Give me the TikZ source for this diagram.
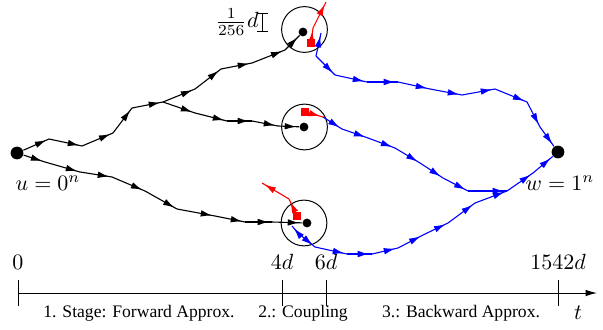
\documentclass[tikz,border=0pt]{standalone}
\usepackage{amsmath,amssymb}
\usepackage{fontspec}
\setmainfont{Liberation Serif}
\usetikzlibrary{arrows.meta,decorations.markings,decorations.pathreplacing}

\tikzset{
  seg/.style={decoration={markings,
      mark=at position -1.3pt with {\arrow{Latex[length=5.2pt,width=3pt]}}},
    postaction={decorate}},
  walk/.style={decoration={show path construction,
      lineto code={\draw[seg,#1] (\tikzinputsegmentfirst) -- (\tikzinputsegmentlast);}},
    decorate},
  bigdot/.style={circle,fill,inner sep=0pt,minimum size=5.8pt},
  smalldot/.style={circle,fill,inner sep=0pt,minimum size=4pt},
  redsq/.style={fill=red,inner sep=0pt,minimum size=3.4pt}
}

\begin{document}
\begin{tikzpicture}[x=0.4544pt,y=-0.4544pt,line width=0.5pt]
\useasboundingbox (0,0) rectangle (603,329);
% start, end and the three balls
\node[bigdot] (U) at (17,153) {};
\node[bigdot] (W) at (558,152) {};
\node at (48,183) {$u=0^n$};
\node at (560,183) {$w=1^n$};
\node[smalldot] (C1) at (303,32) {};
\node[smalldot] (C2) at (304,127) {};
\node[smalldot] (C3) at (307,223) {};
\draw[line width=0.45pt] (304.5,29.5) circle (10.4pt);
\draw[line width=0.45pt] (304.5,127) circle (10.4pt);
\draw[line width=0.45pt] (304,223) circle (10.4pt);
% radius bar
\node (F) at (237,22) {$\frac{1}{256}d$};
\draw[line width=0.45pt,{Bar[width=5pt]}-{Bar[width=5pt]}] (262,13) -- (262,32);

% forward walks
\coordinate (B) at (163,102);
\draw[walk=black] (U) -- (49,139) -- (82,146) -- (113,133) -- (132,108) -- (B);
\draw[walk=black] (B) -- (195,89) -- (221,69) -- (252,63) -- (285,50) -- (C1);
\draw[walk=black] (B) -- (195,113) -- (227,121) -- (252,121) -- (278,126) -- (C2);
\draw[walk=black] (U) -- (45,162) -- (80,172) -- (112,177) -- (145,191) -- (177,209)
  -- (215,216) -- (245,222) -- (272,222) -- (C3);

% coupling
\node[redsq] (R1) at (311,43) {};
\node[redsq] (R2) at (305,112) {};
\node[redsq] (R3) at (297,216) {};
\coordinate (S1) at (316,56);
\coordinate (S2) at (323,117);
\coordinate (S3) at (298,233);
\coordinate (J) at (507,191);
\draw[walk=red] (R1) -- (313,28) -- (326,2);
\draw[walk=red] (R2) -- (S2);
\draw[walk=red] (R3) -- (289,199) -- (262,183);

% backward walks
\draw[walk=blue] (S1) -- (321,33);
\draw[walk=blue] (S1) -- (335,75) -- (367,82) -- (398,82) -- (430,89) -- (462,95)
  -- (495,89) -- (527,102) -- (540,127) -- (W);
\draw[walk=blue] (S2) -- (342,129) -- (368,138) -- (395,148) -- (420,163) -- (443,178)
  -- (468,191) -- (J) -- (533,173) -- (W);
\draw[walk=blue] (S3) -- (292,226);
\draw[walk=blue] (S3) -- (315,247) -- (347,254) -- (372,254) -- (398,248) -- (423,235)
  -- (448,223) -- (475,203) -- (J);

% time axis
\coordinate (T0) at (18,293);
\coordinate (TE) at (597,293);
\draw[line width=0.45pt,-{Latex[length=5.2pt,width=3pt]}] (T0) -- (TE);
\foreach \x/\lab in {18/0,282/4d,326/6d,558/1542d}{
  \draw[line width=0.45pt] (\x,280) -- (\x,306);
  \node at (\x,262) {$\lab$};
}
\node at (139,313) {\footnotesize 1. Stage: Forward Approx.};
\node at (303,313) {\footnotesize 2.: Coupling};
\node at (461,313) {\footnotesize 3.: Backward Approx.};
\node at (578,313) {$t$};
\end{tikzpicture}
\end{document}
